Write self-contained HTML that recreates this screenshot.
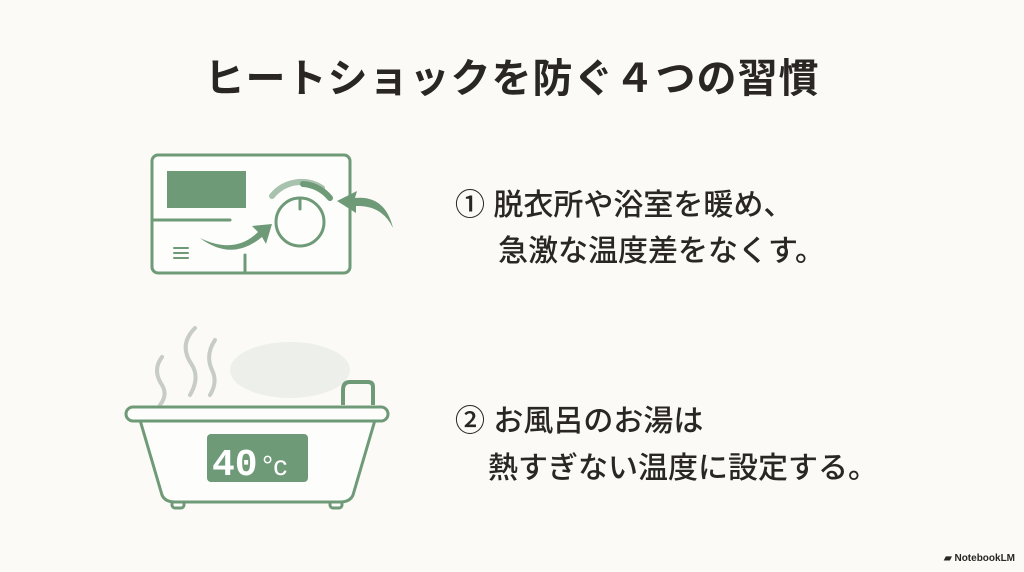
<!DOCTYPE html><html><head><meta charset="utf-8"><style>
body{margin:0;width:1024px;height:572px;background:#fbfaf6;position:relative;overflow:hidden;font-family:"Liberation Sans","Noto Sans CJK JP",sans-serif;color:#2a2624}
.t{position:absolute;white-space:nowrap}
h1{position:absolute;left:0;width:1024px;text-align:center;top:46px;margin:0;font-size:40px;font-weight:700;letter-spacing:1px}
.i{font-size:30px;font-weight:500}
</style></head><body>
<h1>ヒートショックを防ぐ４つの習慣</h1>
<svg width="1024" height="572" style="position:absolute;left:0;top:0">
<g stroke="#6f9a78" stroke-width="3" fill="none" stroke-linecap="round">
<rect x="152" y="155" width="198" height="118" rx="6" fill="#fdfdfb"/>
<rect x="167" y="171" width="79" height="37" fill="#6f9a78" stroke="none"/>
<polyline points="152,220 230,220"/><line x1="245" y1="255" x2="245" y2="273"/>
<line x1="174" y1="248" x2="188" y2="248" stroke-width="2"/><line x1="174" y1="253" x2="188" y2="253" stroke-width="2"/><line x1="174" y1="258" x2="188" y2="258" stroke-width="2"/>
<circle cx="300" cy="222" r="24" fill="#fdfdfb"/><line x1="300" y1="198" x2="300" y2="209"/>
<path d="M272,196 A38,38 0 0 1 322,188" stroke="#a9c2ad" stroke-width="6"/>
<path d="M303,184 A38,38 0 0 1 330,198" stroke="#6f9a78" stroke-width="6"/>
</g>
<path d="M200,238 Q235,255 258,232 L252,226 L272,224 L266,244 L262,237 Q232,262 200,238Z" fill="#6f9a78"/>
<path d="M393,228 Q385,195 355,198 L357,191 L337,201 L356,213 L356,206 Q382,205 393,228Z" fill="#6f9a78"/>
<g fill="none" stroke="#c7ccc7" stroke-width="4" stroke-linecap="round">
<path d="M162,357 Q152,370 162,385 Q168,395 160,405"/>
<path d="M195,328 Q178,345 192,365 Q200,378 190,395"/>
<path d="M215,340 Q205,355 212,370 Q218,382 210,395"/>
</g>
<ellipse cx="290" cy="370" rx="60" ry="28" fill="#e4e8e3" opacity=".6"/>
<g stroke="#6f9a78" stroke-width="3" fill="#fdfdfb">
<path d="M343,405 V390 Q343,382 350,382 H368 Q373,382 373,387 V405" fill="none" stroke-width="4"/>
<rect x="172" y="496" width="12" height="12" rx="3"/><rect x="330" y="496" width="12" height="12" rx="3"/>
<path d="M140,420 L162,495 Q165,502 175,502 H340 Q350,502 353,495 L375,420 Z"/>
<rect x="126" y="407" width="262" height="14" rx="7"/>
</g>
<rect x="207" y="434" width="101" height="48" rx="4" fill="#6f9a78"/>
<text x="212" y="475" font-size="38" fill="#fff" font-family="Liberation Mono,monospace" font-weight="700">40</text>
<text x="262" y="475" font-size="28" fill="#fff" font-family="Liberation Sans,sans-serif">°c</text>
</svg>
<div class="t i" style="left:455px;top:180px">① 脱衣所や浴室を暖め、</div>
<div class="t i" style="left:498px;top:226px">急激な温度差をなくす。</div>
<div class="t i" style="left:455px;top:396px">② お風呂のお湯は</div>
<div class="t i" style="left:488px;top:443px">熱すぎない温度に設定する。</div>
<div class="t" style="left:944px;top:553px;font-size:10px;font-weight:700">▰ NotebookLM</div>
</body></html>
